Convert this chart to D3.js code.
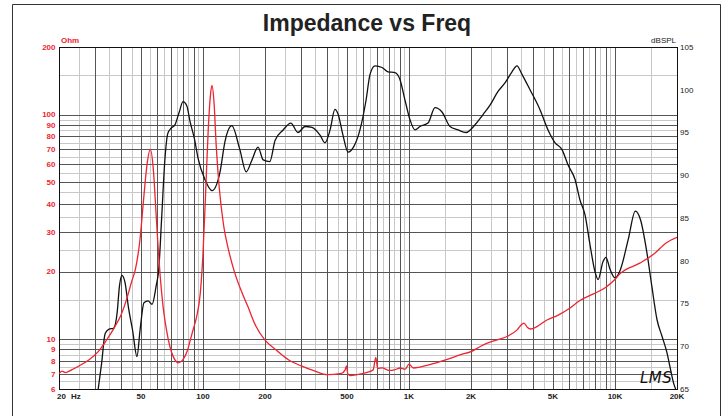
<!DOCTYPE html>
<html><head><meta charset="utf-8">
<script src="https://cdn.jsdelivr.net/npm/d3@7"></script>
<style>html,body{margin:0;padding:0;background:#fff}svg{display:block}</style>
</head><body>
<script>
// ---- data ----
const impFreq = [20,20.7,21.5,23,25,28,31,34,37,40,43,45,47,49.5,51.5,53.5,55.5,57.5,59,60.5,62,64,66.5,69,72,76,80,84,87,90,93,97,100,103,106,108.5,110.5,113,116,120,126,133,142,153,165,180,200,225,260,300,350,400,470,490,497,505,520,560,620,670,690,705,740,800,850,905,960,1000,1010,1050,1260,1520,1800,2000,2230,2400,2680,3010,3350,3550,3620,3750,3900,4700,5300,6000,6700,7860,9000,9900,10600,13200,15500,17700,20000];
const impOhm  = [7.0,7.2,7.1,7.3,7.6,8.1,8.8,9.9,11.2,12.8,15.5,18,20.5,28,42,60,70,56,38,26,19,14,11,9.3,8.3,7.85,8.1,8.9,10,11.2,12.5,16,24,45,85,120,135,115,72,47,32,25,20,16.5,14,11.5,9.9,9,8.1,7.6,7.2,6.95,7.05,7.3,7.6,7.0,6.88,6.95,7.1,7.3,8.3,7.4,7.45,7.26,7.3,7.44,7.36,7.75,7.7,7.44,7.7,8.1,8.55,8.8,9.3,9.6,9.93,10.3,11,11.7,11.8,11.3,11.1,12.2,12.8,13.7,14.8,15.9,17,18.3,19.6,21.8,24,26.8,28.4];

const splFreq = [31,32.2,33.5,35,36.8,38.3,39.3,40.4,41.8,43.5,45.5,47.8,49.5,51.7,54.1,56.6,59.2,61,63,65.4,67.5,70,73.1,76.5,80,83.5,86.5,91,94.6,102.2,110.6,121,128,138,151,162,173,185,196,211,224,245,267,289,313,338,370,391,414,437,452,478,506,541,578,619,647,684,740,791,855,904,956,1011,1070,1131,1237,1338,1446,1582,1730,1891,2092,2288,2474,2706,2924,3162,3344,3536,3868,4320,4730,5120,5530,5920,6400,6760,7150,7560,8000,8280,8750,9040,9460,10000,10600,11600,12550,13300,14300,15100,16000,16900,17900,18600,19300,19700];
const splDb   = [65,68,71.5,72,72.1,73.9,77,78.3,77.5,74.5,71.9,68.8,71.9,75.1,75.3,74.9,77,79,85,92,94.9,95.5,95.9,97.3,98.6,98.1,96.3,94.2,92,89.5,88.2,90.4,94,95.8,93,90.4,91.8,93.3,91.8,91.6,94.1,95.3,96.1,95.0,95.7,95.6,94.7,93.8,95.3,97.7,97.2,94.7,92.7,93.4,95.3,98.8,101.8,102.8,102.6,102.1,102,101.2,98.8,96.5,95.3,95.7,96.1,97.9,97.4,95.7,95.3,95.0,95.9,97.1,98.2,99.8,100.8,102.1,102.8,101.8,100,97.7,95.3,93.8,93.0,91.2,89.5,87.1,85.4,81.9,78.7,77.8,79.9,80.4,79.0,78.0,78.9,82.5,85.8,84.8,80.9,77.0,73.1,71.2,69.2,67.3,65.6,65];

const freqLabels = [50,100,200,500,1000,2000,5000,10000,20000];
const freqLabelText = ["50","100","200","500","1K","2K","5K","10K","20K"];
const ohmLabels = [200,100,90,80,70,60,50,40,30,20,10,9,8,7,6];
const dbLabels = [105,100,95,90,85,80,75,70,65];
const ohmMajor = [6,7,8,9,10,20,30,40,50,60,70,80,90,100,200];
const ohmMinor = [6.5,7.5,8.5,9.5,15,25,35,45,55,65,75,85,95,150];
const freqMults = [1,2,3,4,5,6,7,8,9];
const freqDecades = [10,100,1000,10000];

// ---- chart ----
const W = 727, H = 416;
const L = 59, R = 677, T = 47, B = 389;
const RED = "#ee2430";
const svg = d3.select("body").append("svg").attr("width", W).attr("height", H)
  .style("font-family", "'Liberation Sans', Arial, sans-serif");

const x = d3.scaleLog().domain([20, 20000]).range([L, R]);
const yO = d3.scaleLog().domain([6, 200]).range([B, T]);
const yD = d3.scaleLinear().domain([65, 105]).range([B, T]);

// outer frame
svg.append("path").attr("d", `M12.5,${H}V4.5H720.5V${H}`)
  .attr("fill", "none").attr("stroke", "#333").attr("stroke-width", 1);

// title
svg.append("text").attr("x", 367).attr("y", 31).attr("text-anchor", "middle")
  .attr("font-size", 23).attr("font-weight", "bold").attr("fill", "#222")
  .text("Impedance vs Freq");

const freqMajor = [], freqMinor = [];
freqDecades.forEach(d => freqMults.forEach(m => {
  const f = m * d, h = (m + 0.5) * d;
  if (f >= 20 && f <= 20000) freqMajor.push(f);
  if (h > 20 && h < 20000) freqMinor.push(h);
}));

const g = svg.append("g").attr("shape-rendering", "crispEdges");
const snap = v => Math.round(v) + 0.5;
// minor grid
g.selectAll(".vmin").data(freqMinor).join("line")
  .attr("x1", d => snap(x(d))).attr("x2", d => snap(x(d))).attr("y1", T).attr("y2", B)
  .attr("stroke", "#c8c8c8");
g.selectAll(".hmin").data(ohmMinor).join("line")
  .attr("y1", d => snap(yO(d))).attr("y2", d => snap(yO(d))).attr("x1", L).attr("x2", R)
  .attr("stroke", "#c8c8c8");
// major grid
g.selectAll(".vmaj").data(freqMajor).join("line")
  .attr("x1", d => snap(x(d))).attr("x2", d => snap(x(d))).attr("y1", T).attr("y2", B)
  .attr("stroke", "#555");
g.selectAll(".hmaj").data(ohmMajor).join("line")
  .attr("y1", d => snap(yO(d))).attr("y2", d => snap(yO(d))).attr("x1", L).attr("x2", R)
  .attr("stroke", "#555");
// plot border
g.append("rect").attr("x", L + 0.5).attr("y", T + 0.5).attr("width", R - L).attr("height", B - T)
  .attr("fill", "none").attr("stroke", "#111");

// clip
svg.append("clipPath").attr("id", "clip").append("rect")
  .attr("x", L).attr("y", T).attr("width", R - L).attr("height", B - T + 1);

const impData = impFreq.map((f, i) => [f, impOhm[i]]);
const splData = splFreq.map((f, i) => [f, splDb[i]]);

svg.append("path").datum(splData).attr("clip-path", "url(#clip)")
  .attr("d", d3.line().x(d => x(d[0])).y(d => yD(d[1])).curve(d3.curveMonotoneX))
  .attr("fill", "none").attr("stroke", "#111").attr("stroke-width", 1.3);
svg.append("path").datum(impData).attr("clip-path", "url(#clip)")
  .attr("d", d3.line().x(d => x(d[0])).y(d => yO(d[1])).curve(d3.curveMonotoneX))
  .attr("fill", "none").attr("stroke", RED).attr("stroke-width", 1.3);

// left labels
svg.selectAll(".ol").data(ohmLabels).join("text")
  .attr("x", 55.5).attr("y", d => yO(d)).attr("dy", "0.35em").attr("text-anchor", "end")
  .attr("font-size", 8).attr("font-weight", "bold").attr("fill", RED).text(d => d);
svg.append("text").attr("x", 61).attr("y", 43).attr("font-size", 8).attr("font-weight", "bold")
  .attr("fill", RED).text("Ohm");
// right labels
svg.selectAll(".dl").data(dbLabels).join("text")
  .attr("x", 680).attr("y", d => yD(d)).attr("dy", "0.35em")
  .attr("font-size", 8).attr("fill", "#222").text(d => d);
svg.append("text").attr("x", 676).attr("y", 43).attr("text-anchor", "end").attr("font-size", 8)
  .attr("fill", "#222").text("dBSPL");
// bottom labels
svg.selectAll(".fl").data(freqLabels).join("text")
  .attr("x", d => x(d)).attr("y", 399).attr("text-anchor", "middle")
  .attr("font-size", 8).attr("font-weight", "bold").attr("fill", "#222")
  .text((d, i) => freqLabelText[i]);
svg.append("text").attr("x", 57).attr("y", 399).attr("font-size", 8).attr("font-weight", "bold")
  .attr("fill", "#222").text("20");
svg.append("text").attr("x", 71).attr("y", 399).attr("font-size", 8).attr("font-weight", "bold")
  .attr("fill", "#222").text("Hz");

// logo
svg.append("text").attr("x", 640).attr("y", 383).attr("font-size", 15)
  .attr("font-style", "italic").attr("font-family", "'DejaVu Sans', sans-serif")
  .attr("fill", "#111").attr("font-weight", "normal")
  .attr("letter-spacing", 0.5).text("LMS");
</script>
</body></html>
